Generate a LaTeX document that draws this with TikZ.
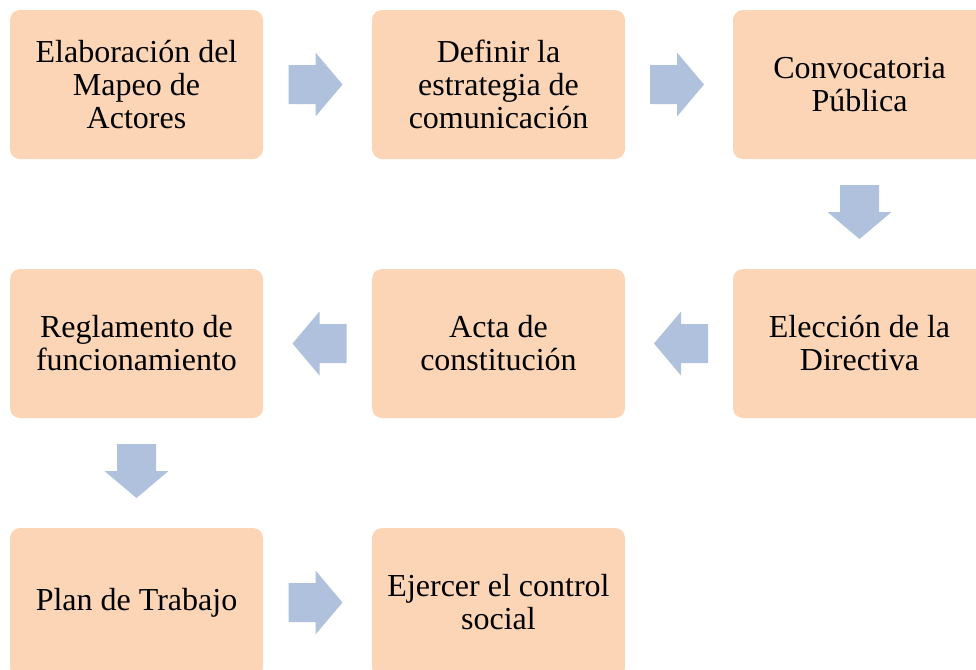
\documentclass[tikz,border=0pt]{standalone}
\usepackage{fontspec}
\setmainfont{Liberation Serif}
\usetikzlibrary{calc}
\definecolor{peach}{HTML}{FBD5B5}
\definecolor{arrowblue}{HTML}{B0C1DD}
\tikzset{
  stepbox/.style={fill=peach, draw=none, rounded corners=7.5pt,
    minimum width=189.75pt, minimum height=111.75pt, inner sep=0pt,
    align=center, font=\fontsize{24}{24.75}\selectfont},
  blockarrow/.pic={\fill[arrowblue] (-27,-19.5) -- (0,-19.5) -- (0,-32) -- (27,0) -- (0,32) -- (0,19.5) -- (-27,19.5) -- cycle;}
}
\begin{document}
\begin{tikzpicture}[x=0.75pt,y=-0.75pt]
\useasboundingbox (0,0) rectangle (976,669);
\begin{scope}
\clip (0,0) rectangle (976,669);
\node[stepbox] (b1) at (136.5,84.5) {Elaboración del\\Mapeo de\\Actores};
\node[stepbox] (b2) at (498.5,84.5) {Definir la\\estrategia de\\comunicación};
\node[stepbox] (b3) at (859.5,84.5) {Convocatoria\\Pública};
\node[stepbox] (b4) at (859.5,343.5) {Elección de la\\Directiva};
\node[stepbox] (b5) at (498.5,343.5) {Acta de\\constitución};
\node[stepbox] (b6) at (136.5,343.5) {Reglamento de\\funcionamiento};
\node[stepbox] (b7) at (136.5,602.5) {Plan de Trabajo};
\node[stepbox] (b8) at (498.5,602.5) {Ejercer el control\\social};

\coordinate (m12) at ($(b1.east)!0.5!(b2.west)+(-2,0)$);
\coordinate (m23) at ($(b2.east)!0.5!(b3.west)+(-2,0)$);
\coordinate (m34) at ($(b3.south)!0.5!(b4.north)+(0,-2)$);
\coordinate (m45) at ($(b4.west)!0.5!(b5.east)+(2,0)$);
\coordinate (m56) at ($(b5.west)!0.5!(b6.east)+(2,0)$);
\coordinate (m67) at ($(b6.south)!0.5!(b7.north)+(0,-2)$);
\coordinate (m78) at ($(b7.east)!0.5!(b8.west)+(-2,0)$);

\pic at (m12) {blockarrow};
\pic at (m23) {blockarrow};
\pic[rotate=-90] at (m34) {blockarrow};
\pic[rotate=180] at (m45) {blockarrow};
\pic[rotate=180] at (m56) {blockarrow};
\pic[rotate=-90] at (m67) {blockarrow};
\pic at (m78) {blockarrow};
\end{scope}
\end{tikzpicture}
\end{document}
